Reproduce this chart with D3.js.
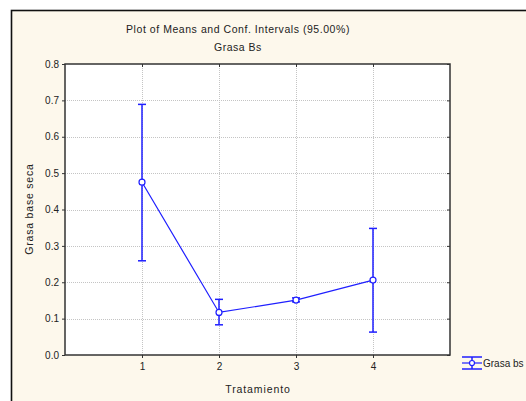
<!DOCTYPE html>
<html><head><meta charset="utf-8">
<script src="https://cdn.jsdelivr.net/npm/d3@7"></script>
<style>body{margin:0;background:#fff}svg{display:block}text{font-family:"Liberation Sans",Arial,sans-serif;fill:#222}</style>
</head><body><svg id="c" width="526" height="401"></svg>
<script>
const categories = [1, 2, 3, 4];
const means = [0.475, 0.117, 0.151, 0.206];
const lower = [0.259, 0.083, 0.146, 0.063];
const upper = [0.689, 0.153, 0.157, 0.348];
const yTicks = [0.0, 0.1, 0.2, 0.3, 0.4, 0.5, 0.6, 0.7, 0.8];
const title = "Plot of Means and Conf. Intervals (95.00%)";
const subtitle = "Grasa Bs";
const xLabel = "Tratamiento";
const yLabel = "Grasa base seca";
const seriesName = "Grasa bs";

const svg = d3.select("#c");
const blue = "#1f1fff";
// frame
svg.append("rect").attr("x",11.5).attr("y",10.5).attr("width",560).attr("height",420)
  .attr("fill","#fdf8ec").attr("stroke","#111").attr("stroke-width",1.6);

const L=65,R=450,T=64,B=355;
const x = d3.scaleLinear().domain([0,5]).range([L,R]);
const y = d3.scaleLinear().domain([0,0.8]).range([B,T]);

svg.append("rect").attr("x",L).attr("y",T).attr("width",R-L).attr("height",B-T).attr("fill","#fff");

// grid
const g = svg.append("g");
g.selectAll(".gy").data(yTicks.slice(1,-1)).join("line")
  .attr("x1",L).attr("x2",R).attr("y1",d=>Math.round(y(d))+0.5).attr("y2",d=>Math.round(y(d))+0.5)
  .attr("stroke","#c4c4c4").attr("stroke-width",1).attr("stroke-dasharray","1,1");
g.selectAll(".gx").data(categories).join("line")
  .attr("y1",T).attr("y2",B).attr("x1",d=>Math.round(x(d))+0.5).attr("x2",d=>Math.round(x(d))+0.5)
  .attr("stroke","#c4c4c4").attr("stroke-width",1).attr("stroke-dasharray","1,1");

// axes
const fmt = d3.format(".1f");
const ax = (a)=>a.tickSizeOuter(0);
const yl = svg.append("g").attr("transform",`translate(${L},0)`)
  .call(ax(d3.axisLeft(y).tickValues(yTicks).tickFormat(fmt).tickSize(3).tickPadding(3)));
const yr = svg.append("g").attr("transform",`translate(${R},0)`)
  .call(ax(d3.axisLeft(y).tickValues(yTicks).tickFormat("").tickSize(3)));
const xb = svg.append("g").attr("transform",`translate(0,${B})`)
  .call(ax(d3.axisBottom(x).tickValues(categories).tickFormat(d3.format("d")).tickSize(3).tickPadding(5)));
const xt = svg.append("g").attr("transform",`translate(0,${T})`)
  .call(ax(d3.axisBottom(x).tickValues(categories).tickFormat("").tickSize(3)));
[yl,yr,xb,xt].forEach(a=>{
  a.select(".domain").remove();
  a.selectAll("line").attr("stroke","#333");
  a.selectAll("text").attr("font-size",10).attr("fill","#222").style("font-family","'Liberation Sans',Arial,sans-serif");
});
// spines
svg.append("rect").attr("x",L).attr("y",T).attr("width",R-L).attr("height",B-T)
  .attr("fill","none").attr("stroke","#333").attr("stroke-width",1.5);

// error bars
const data = categories.map((c,i)=>({c,m:means[i],lo:lower[i],hi:upper[i]}));
const eb = svg.append("g").attr("stroke",blue);
eb.selectAll(".v").data(data).join("line")
  .attr("x1",d=>x(d.c)).attr("x2",d=>x(d.c)).attr("y1",d=>y(d.lo)).attr("y2",d=>y(d.hi)).attr("stroke-width",1.5);
eb.selectAll(".ct").data(data).join("line")
  .attr("x1",d=>x(d.c)-4).attr("x2",d=>x(d.c)+4).attr("y1",d=>y(d.hi)).attr("y2",d=>y(d.hi)).attr("stroke-width",1.5);
eb.selectAll(".cb").data(data).join("line")
  .attr("x1",d=>x(d.c)-4).attr("x2",d=>x(d.c)+4).attr("y1",d=>y(d.lo)).attr("y2",d=>y(d.lo)).attr("stroke-width",1.5);

svg.append("path").datum(data)
  .attr("d",d3.line().x(d=>x(d.c)).y(d=>y(d.m)))
  .attr("fill","none").attr("stroke",blue).attr("stroke-width",1.2);
svg.selectAll(".pt").data(data).join("circle")
  .attr("cx",d=>x(d.c)).attr("cy",d=>y(d.m)).attr("r",3)
  .attr("fill","#fff").attr("stroke",blue).attr("stroke-width",1.2);

// titles
svg.append("text").attr("x",238).attr("y",33).attr("text-anchor","middle").attr("font-size",10.5).attr("letter-spacing",0.55).text(title);
svg.append("text").attr("x",238).attr("y",51).attr("text-anchor","middle").attr("font-size",10.5).attr("letter-spacing",0.5).text(subtitle);
svg.append("text").attr("x",258).attr("y",393).attr("text-anchor","middle").attr("font-size",10.5).attr("letter-spacing",0.9).text(xLabel);
svg.append("text").attr("transform","translate(33,209) rotate(-90)").attr("text-anchor","middle").attr("font-size",10.5).attr("letter-spacing",0.8).text(yLabel);

// legend
const lg = svg.append("g").attr("stroke",blue);
const lx=462, ly=363;
lg.append("line").attr("x1",lx).attr("x2",lx+20).attr("y1",ly-6).attr("y2",ly-6).attr("stroke-width",1.5);
lg.append("line").attr("x1",lx).attr("x2",lx+20).attr("y1",ly+6).attr("y2",ly+6).attr("stroke-width",1.5);
lg.append("line").attr("x1",lx).attr("x2",lx+20).attr("y1",ly).attr("y2",ly).attr("stroke-width",1.2);
lg.append("line").attr("x1",lx+10).attr("x2",lx+10).attr("y1",ly-6).attr("y2",ly+6).attr("stroke-width",1.5);
lg.append("circle").attr("cx",lx+10).attr("cy",ly).attr("r",2.5).attr("fill","#fff").attr("stroke-width",1.2);
svg.append("text").attr("x",lx+21).attr("y",ly+4).attr("font-size",10).text(seriesName);
</script></body></html>
